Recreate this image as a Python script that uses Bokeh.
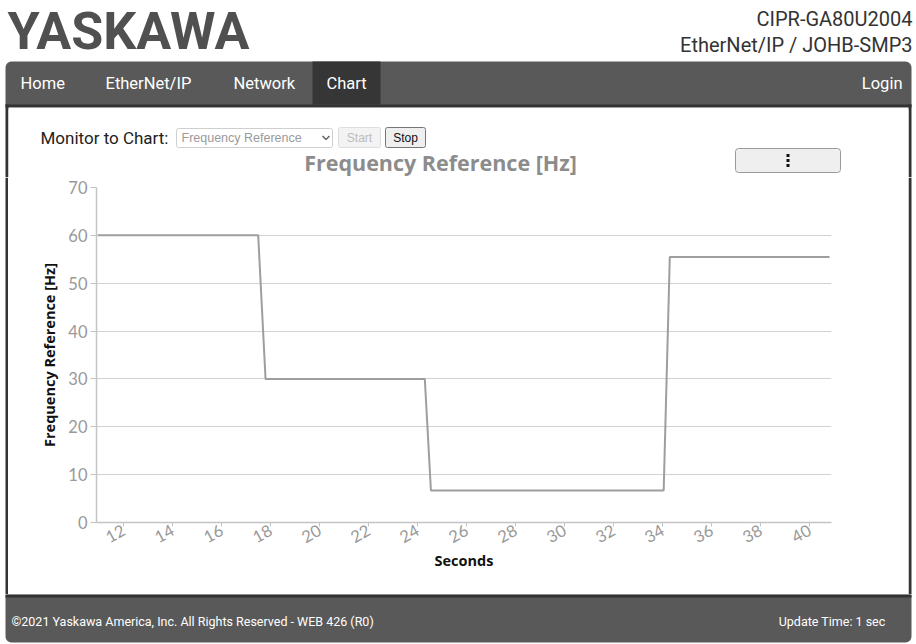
from bokeh.plotting import figure
from bokeh.models import Range1d, FixedTicker
from bokeh.layouts import column, row
from bokeh.embed import file_html
from bokeh.resources import INLINE
from bokeh.core.properties import value

# ---------------- data ----------------
seconds = [10.95, 17.5, 17.8, 24.3, 24.55, 34.05, 34.3, 40.82]
freq_hz = [60, 60, 30, 30, 6.7, 6.7, 55.5, 55.5]
x_ticks = [12, 14, 16, 18, 20, 22, 24, 26, 28, 30, 32, 34, 36, 38, 40]
y_ticks = [0, 10, 20, 30, 40, 50, 60, 70]

chart_title = "Frequency Reference [Hz]"
x_title = "Seconds"
y_title = "Frequency Reference [Hz]"
brand = "YASKAWA"
model_name = "CIPR-GA80U2004"
option_name = "EtherNet/IP / JOHB-SMP3"
nav_left = ["Home", "EtherNet/IP", "Network", "Chart"]
nav_right = ["Login"]
monitor_label = "Monitor to Chart:"
monitor_choice = "Frequency Reference"
buttons = ["Start", "Stop"]
footer_left = "\u00a92021 Yaskawa America, Inc. All Rights Reserved - WEB 426 (R0)"
footer_right = "Update Time: 1 sec"

NAV_BG = "#595959"
NAV_ACTIVE = "#363636"
BORDER = "#333333"

PW, PH = 916, 644          # page size
TOP_H, FOOT_Y = 177, 594   # band boundaries
FL, FR, FT, FB = 96, 831, 187, 522  # chart frame on the page


def deco(x0, x1, y0, y1):
    p = figure(width=x1 - x0, height=y1 - y0, x_range=Range1d(x0, x1), y_range=Range1d(y1, y0),
               min_border=0, toolbar_location=None, output_backend="svg",
               x_axis_location=None, y_axis_location=None, title=None)
    p.frame_align = False
    p.xgrid.visible = False
    p.ygrid.visible = False
    p.outline_line_color = None
    p.background_fill_color = "white"
    p.border_fill_color = "white"
    return p


def txt(p, x, y, s, font="Roboto", size="16px", color="#222", align="left",
        baseline="middle", style="normal"):
    p.text(x=[x], y=[y], text=[s], text_font=value(font), text_font_size=value(size),
           text_color=color, text_align=align, text_baseline=baseline,
           text_font_style=style)


# ---------------- header + nav + controls ----------------
top = deco(0, PW, 0, TOP_H)
txt(top, 7, 31, brand, size="52px", color="#505050", style="bold")
txt(top, 912, 18, model_name, size="20px", color="#333", align="right")
txt(top, 912, 44, option_name, size="20px", color="#333", align="right")

top.quad(left=5, right=911, top=61, bottom=110, fill_color=NAV_BG, line_color=None,
         border_radius=6)
top.quad(left=312, right=380, top=61, bottom=104, fill_color=NAV_ACTIVE, line_color=None)
top.quad(left=5, right=911, top=104, bottom=107, fill_color=BORDER, line_color=None)
top.quad(left=[5, 908], right=[8, 911], top=[104, 104], bottom=[TOP_H, TOP_H],
         fill_color=BORDER, line_color=None)
top.quad(left=8, right=908, top=107, bottom=TOP_H, fill_color="white", line_color=None)
for xx, s in zip([20, 105, 233, 326], nav_left):
    txt(top, xx, 83, s, size="16.5px", color="white")
txt(top, 902, 83, nav_right[0], size="16.5px", color="white", align="right")

# controls row
txt(top, 40, 137, monitor_label, size="17px", color="#222")
top.quad(left=176, right=332, top=128, bottom=147, fill_color="white", line_color="#cfcfcf",
         border_radius=2)
txt(top, 181, 137.5, monitor_choice, font="Liberation Sans", size="12.5px", color="#9a9a9a")
top.line(x=[322, 325.5, 329], y=[135.5, 139, 135.5], line_color="#666", line_width=1.5)
top.quad(left=338, right=380, top=127, bottom=147, fill_color="#f3f3f3", line_color="#dddddd",
         border_radius=2)
txt(top, 359, 137.5, buttons[0], font="Liberation Sans", size="12px", color="#bdbdbd",
    align="center")
top.quad(left=385, right=425, top=127, bottom=147, fill_color="#efefef", line_color="#767676",
         border_radius=2)
txt(top, 405, 137.5, buttons[1], font="Liberation Sans", size="12px", color="#111",
    align="center")

# chart title and menu button
txt(top, 440, 162, chart_title, font="Open Sans", size="21.5px", color="#8c8c8c",
    align="center", style="bold")
top.quad(left=735, right=840, top=148, bottom=172, fill_color="#efefef", line_color="#9a9a9a",
         border_radius=3)
top.rect(x=[787.5, 787.5, 787.5], y=[155, 160, 165], width=3, height=3,
         fill_color="#111", line_color=None)

# ---------------- chart ----------------
CX0, CX1 = 8, PW - 8
p = figure(width=CX1 - CX0, height=FOOT_Y - TOP_H,
           x_range=Range1d(10.9, 40.9), y_range=Range1d(0, 70),
           min_border_left=FL - CX0, min_border_right=CX1 - FR,
           min_border_top=FT - TOP_H, min_border_bottom=FOOT_Y - FB,
           toolbar_location=None, output_backend="svg", title=None)
p.frame_align = False
p.outline_line_color = None
p.background_fill_color = "white"
p.border_fill_color = "white"
p.xgrid.visible = False
p.ygrid.grid_line_color = "#d2d2d2"
p.ygrid.grid_line_width = 1

p.xaxis.ticker = FixedTicker(ticks=x_ticks)
p.yaxis.ticker = FixedTicker(ticks=y_ticks)
p.xaxis.major_label_orientation = 0.5
for ax in (p.xaxis, p.yaxis):
    ax.axis_line_color = "#c4c4c4"
    ax.axis_line_width = 1.5
    ax.major_tick_line_color = "#c4c4c4"
    ax.minor_tick_line_color = None
    ax.major_tick_in = 0
    ax.major_label_text_color = "#999999"
    ax.major_label_text_font = "Lato"
    ax.major_label_text_font_size = "16.5px"
    ax.axis_label_text_font = "Open Sans"
    ax.axis_label_text_font_style = "bold"
    ax.axis_label_text_font_size = "14.5px"
    ax.axis_label_text_color = "#111"
p.yaxis.major_tick_out = 6
p.yaxis.major_label_standoff = 3
p.yaxis.axis_label_standoff = 6
p.xaxis.major_tick_out = 4
p.xaxis.major_label_standoff = 2
p.xaxis.axis_label_standoff = -1
p.xaxis.axis_label = x_title
p.yaxis.axis_label = y_title

p.line(seconds, freq_hz, line_color="#9e9e9e", line_width=2)

# side strips with the panel border
left = deco(0, CX0, TOP_H, FOOT_Y)
left.quad(left=5, right=8, top=TOP_H, bottom=FOOT_Y, fill_color=BORDER, line_color=None)
right = deco(CX1, PW, TOP_H, FOOT_Y)
right.quad(left=908, right=911, top=TOP_H, bottom=FOOT_Y, fill_color=BORDER, line_color=None)

# ---------------- footer ----------------
foot = deco(0, PW, FOOT_Y, PH)
foot.quad(left=5, right=911, top=590, bottom=642, fill_color=NAV_BG, line_color=None,
          border_radius=6)
foot.quad(left=5, right=911, top=FOOT_Y, bottom=597, fill_color=BORDER, line_color=None)
txt(foot, 11, 621, footer_left, size="12.5px", color="white")
txt(foot, 885, 621, footer_right, size="12.5px", color="white", align="right")

layout = column(top, row(left, p, right, spacing=0), foot, spacing=0)
open("out.html", "w").write(file_html(layout, INLINE))
